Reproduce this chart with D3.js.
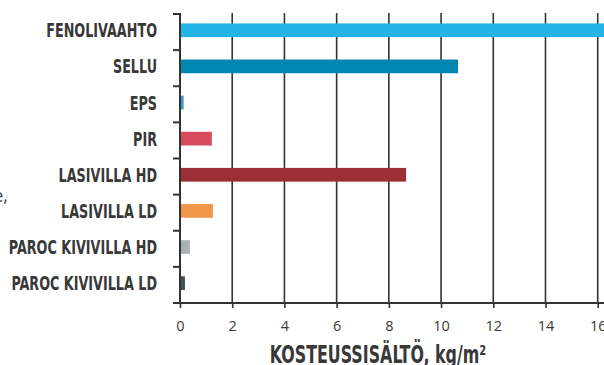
<!DOCTYPE html>
<html>
<head>
<meta charset="utf-8">
<script src="https://cdn.jsdelivr.net/npm/d3@7"></script>
<style>
  html, body { margin: 0; padding: 0; background: #fff; }
  svg { display: block; }
</style>
</head>
<body>
<svg id="chart" width="604" height="365"></svg>
<script>
// Moisture content by insulation material
const categories = [
  "FENOLIVAAHTO", "SELLU", "EPS", "PIR",
  "LASIVILLA HD", "LASIVILLA LD", "PAROC KIVIVILLA HD", "PAROC KIVIVILLA LD"
];
const values = [16.5, 10.65, 0.14, 1.22, 8.66, 1.26, 0.38, 0.19];
const colors = ["#22b4e4", "#0087b1", "#3a96d2", "#d54a5d", "#9c2e35", "#f0954a", "#aab1b5", "#485256"];
const xTicks = [0, 2, 4, 6, 8, 10, 12, 14, 16];
const xTitle = "KOSTEUSSISÄLTÖ, kg/m²";

const svg = d3.select("#chart");
const plotLeft = 180, plotRight = 597.7, plotTop = 14, plotBottom = 303;
const ink = "#333";
const condensed = "'DejaVu Sans Condensed', 'Liberation Sans Narrow', sans-serif";

const x = d3.scaleLinear().domain([0, 16]).range([plotLeft, plotRight]);
const y = d3.scaleBand().domain(categories).range([plotTop, plotBottom])
  .paddingInner(0.62).paddingOuter(0.31).align(0.42);

// stray text from the surrounding page, cut by the left edge
svg.append("text").attr("x", 8).attr("y", 202).attr("text-anchor", "end")
  .style("font-family", "'Open Sans', sans-serif").style("font-size", "18px")
  .attr("fill", "#444").text("e,");

// vertical grid lines
svg.append("g").selectAll("line").data(xTicks.slice(1)).join("line")
  .attr("x1", d => x(d)).attr("x2", d => x(d))
  .attr("y1", plotTop - 1).attr("y2", plotBottom)
  .attr("stroke", ink).attr("stroke-width", 1.6);

// bars
svg.append("g").selectAll("rect").data(values).join("rect")
  .attr("x", x(0))
  .attr("y", (d, i) => y(categories[i]))
  .attr("width", d => x(d) - x(0))
  .attr("height", y.bandwidth())
  .attr("fill", (d, i) => colors[i]);

// x axis
const xAxis = d3.axisBottom(x).tickValues(xTicks).tickSize(5).tickPadding(13).tickFormat(d3.format("d"));
const gx = svg.append("g").attr("transform", `translate(0,${plotBottom})`).call(xAxis);
gx.select(".domain").remove();
gx.selectAll(".tick line").attr("stroke", ink).attr("stroke-width", 1.6);
gx.selectAll(".tick text")
  .style("font-family", "'Open Sans', sans-serif").style("font-size", "14.5px")
  .attr("fill", "#3a3a3a");
svg.append("line").attr("x1", 173).attr("x2", 604).attr("y1", plotBottom).attr("y2", plotBottom)
  .attr("stroke", ink).attr("stroke-width", 2);

// y axis with ticks on the band boundaries
const bandEdges = d3.range(categories.length).map(i => plotTop + i * (plotBottom - plotTop) / categories.length);
svg.append("line").attr("x1", plotLeft).attr("x2", plotLeft).attr("y1", plotTop - 1).attr("y2", plotBottom)
  .attr("stroke", ink).attr("stroke-width", 2);
svg.append("g").selectAll("line").data(bandEdges).join("line")
  .attr("x1", plotLeft - 7).attr("x2", plotLeft).attr("y1", d => d).attr("y2", d => d)
  .attr("stroke", ink).attr("stroke-width", 2);

// category labels
svg.append("g").selectAll("text").data(categories).join("text")
  .attr("transform", d => `translate(157,${y(d) + y.bandwidth() / 2 + 7}) scale(0.71,1)`)
  .attr("text-anchor", "end")
  .style("font-family", condensed)
  .style("font-weight", "bold").style("font-size", "20px")
  .attr("fill", "#383838")
  .text(d => d);

// axis title
svg.append("text")
  .attr("transform", "translate(378,363) scale(0.72,1)")
  .attr("text-anchor", "middle")
  .style("font-family", condensed)
  .style("font-weight", "bold").style("font-size", "24.5px")
  .attr("fill", "#383838")
  .text(xTitle);
</script>
</body>
</html>
